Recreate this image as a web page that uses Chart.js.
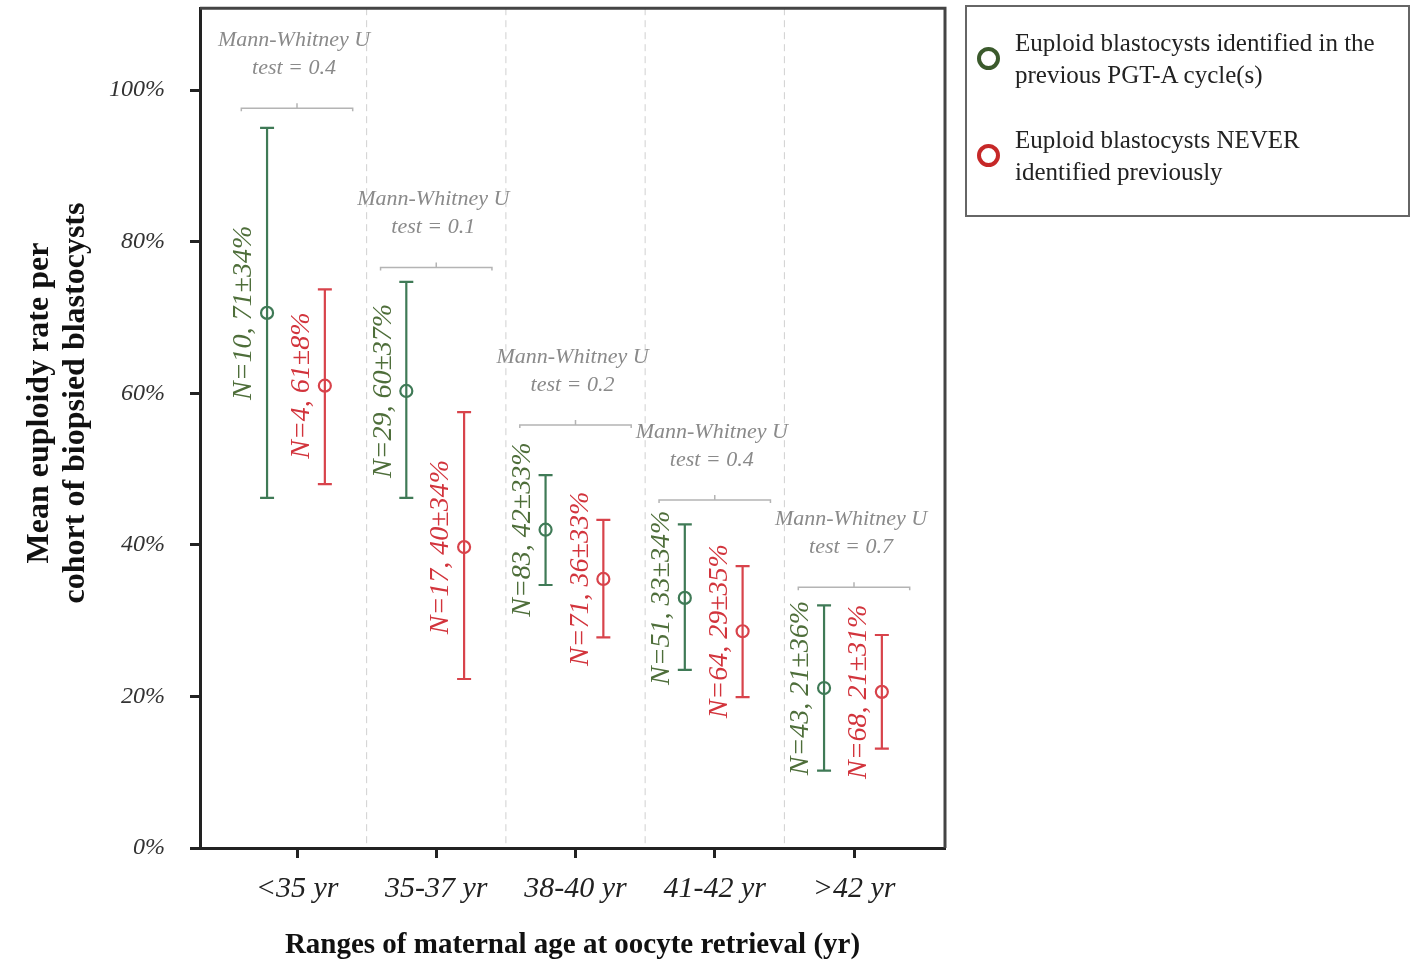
<!DOCTYPE html>
<html>
<head>
<meta charset="utf-8">
<script src="https://cdn.jsdelivr.net/npm/chart.js@4.4.1/dist/chart.umd.min.js"></script>
<style>
  body { margin: 0; background: #fff; }
  #wrap { position: relative; width: 1425px; height: 966px; }
  #legend {
    position: absolute; left: 965px; top: 5px; width: 441px; height: 208px;
    border: 2px solid #666; font-family: 'Liberation Serif', serif; font-size: 25px;
    color: #222; line-height: 32px;
  }
  .item { position: absolute; left: 48px; }
  .dot { position: absolute; left: -38px; width: 15px; height: 15px; border-radius: 50%; border: 4px solid; }
</style>
</head>
<body>
<div id="wrap">
  <canvas id="chart" width="1425" height="966"></canvas>
  <div id="legend">
    <div class="item" style="top:20px"><span class="dot" style="top:20px;border-color:#3b5a2c"></span>Euploid blastocysts identified in the<br>previous PGT-A cycle(s)</div>
    <div class="item" style="top:117px"><span class="dot" style="top:20px;border-color:#c62828"></span>Euploid blastocysts NEVER<br>identified previously</div>
  </div>
</div>
<script>
// data (percent)
const ageGroups = ['<35 yr', '35-37 yr', '38-40 yr', '41-42 yr', '>42 yr'];
const prevMean = [70.6, 60.3, 42.0, 33.0, 21.1];
const prevLow  = [46.2, 46.2, 34.7, 23.5, 10.2];
const prevHigh = [95.0, 74.7, 49.2, 42.7, 32.0];
const neverMean = [61.0, 39.7, 35.5, 28.6, 20.6];
const neverLow  = [48.0, 22.3, 27.8, 19.9, 13.1];
const neverHigh = [73.7, 57.5, 43.3, 37.2, 28.1];
const prevLabels  = ['N=10, 71±34%', 'N=29, 60±37%', 'N=83, 42±33%', 'N=51, 33±34%', 'N=43, 21±36%'];
const neverLabels = ['N=4, 61±8%', 'N=17, 40±34%', 'N=71, 36±33%', 'N=64, 29±35%', 'N=68, 21±31%'];
const mwTest = ['0.4', '0.1', '0.2', '0.4', '0.7'];
const bracketLevel = [97.6, 76.6, 55.8, 45.9, 34.4];
const yTicks = [0, 20, 40, 60, 80, 100];

const GREEN = '#3f7a56';
const RED = '#d8434b';
const GREEN_TXT = '#4e6e3a';
const RED_TXT = '#d2343c';
const OFF_PREV = -0.215, OFF_NEVER = 0.2;
const SERIF = "'Liberation Serif', 'Times New Roman', serif";

function errBars(ctx, x, y, means, lows, highs, off, color) {
    ctx.strokeStyle = color;
    ctx.lineWidth = 2.2;
    means.forEach((m, i) => {
        const px = x.getPixelForValue(i + 1 + off);
        const top = y.getPixelForValue(highs[i]);
        const bot = y.getPixelForValue(lows[i]);
        ctx.beginPath();
        ctx.moveTo(px, top); ctx.lineTo(px, bot);
        ctx.moveTo(px - 7, top); ctx.lineTo(px + 7, top);
        ctx.moveTo(px - 7, bot); ctx.lineTo(px + 7, bot);
        ctx.stroke();
    });
}

function sideLabels(ctx, x, y, means, labels, off, color) {
    ctx.fillStyle = color;
    ctx.font = 'italic 28px ' + SERIF;
    ctx.textAlign = 'center';
    ctx.textBaseline = 'middle';
    labels.forEach((t, i) => {
        const px = x.getPixelForValue(i + 1 + off) - 23;
        const py = y.getPixelForValue(means[i]);
        ctx.save();
        ctx.translate(px, py);
        ctx.rotate(-Math.PI / 2);
        ctx.fillText(t, 0, 0);
        ctx.restore();
    });
}

const decorations = {
    id: 'decorations',
    beforeDatasetsDraw(chart) {
        const { ctx, chartArea: a, scales: { x, y } } = chart;
        ctx.save();
        // dashed separators between age groups
        ctx.strokeStyle = '#d0d0d0';
        ctx.lineWidth = 1;
        ctx.setLineDash([7, 5]);
        for (let i = 1; i < ageGroups.length; i++) {
            const px = x.getPixelForValue(i + 0.5);
            ctx.beginPath(); ctx.moveTo(px, a.top); ctx.lineTo(px, a.bottom); ctx.stroke();
        }
        ctx.setLineDash([]);
        // significance brackets
        ctx.strokeStyle = '#b4b4b4';
        ctx.lineWidth = 1.5;
        bracketLevel.forEach((lv, i) => {
            const l = x.getPixelForValue(i + 1 - 0.4);
            const r = x.getPixelForValue(i + 1 + 0.4);
            const py = y.getPixelForValue(lv);
            const c = (l + r) / 2;
            ctx.beginPath();
            ctx.moveTo(l, py + 3); ctx.lineTo(l, py); ctx.lineTo(r, py); ctx.lineTo(r, py + 3);
            ctx.moveTo(c, py); ctx.lineTo(c, py - 5);
            ctx.stroke();
        });
        errBars(ctx, x, y, prevMean, prevLow, prevHigh, OFF_PREV, GREEN);
        errBars(ctx, x, y, neverMean, neverLow, neverHigh, OFF_NEVER, RED);
        ctx.restore();
    },
    afterDraw(chart) {
        const { ctx, chartArea: a, scales: { x, y } } = chart;
        ctx.save();
        // frame (top + right)
        ctx.strokeStyle = '#444';
        ctx.lineWidth = 3;
        ctx.beginPath();
        ctx.moveTo(a.left, a.top); ctx.lineTo(a.right, a.top); ctx.lineTo(a.right, a.bottom);
        ctx.stroke();
        // Mann-Whitney notes
        ctx.fillStyle = '#8a8a8a';
        ctx.font = 'italic 22px ' + SERIF;
        ctx.textAlign = 'center';
        ctx.textBaseline = 'middle';
        bracketLevel.forEach((lv, i) => {
            const c = x.getPixelForValue(i + 1);
            const py = y.getPixelForValue(lv);
            ctx.fillText('Mann-Whitney U', c - 3, py - 68);
            ctx.fillText('test = ' + mwTest[i], c - 3, py - 40);
        });
        sideLabels(ctx, x, y, prevMean, prevLabels, OFF_PREV, GREEN_TXT);
        sideLabels(ctx, x, y, neverMean, neverLabels, OFF_NEVER, RED_TXT);
        // y axis title
        ctx.fillStyle = '#111';
        ctx.font = 'bold 32px ' + SERIF;
        ctx.textAlign = 'center';
        ctx.textBaseline = 'middle';
        [['Mean euploidy rate per', 40], ['cohort of biopsied blastocysts', 76]].forEach(([t, px]) => {
            ctx.save();
            ctx.translate(px, 403);
            ctx.rotate(-Math.PI / 2);
            ctx.fillText(t, 0, 0);
            ctx.restore();
        });
        ctx.restore();
    }
};

const pointStyle = (color) => ({
    showLine: false,
    pointRadius: 6,
    pointHoverRadius: 6,
    pointBorderWidth: 2.2,
    pointBackgroundColor: 'rgba(0,0,0,0)',
    pointBorderColor: color,
    borderColor: color
});

const noPad = (s) => { s.paddingTop = 0; s.paddingBottom = 0; s.paddingLeft = 0; s.paddingRight = 0; };

new Chart(document.getElementById('chart').getContext('2d'), {
    type: 'scatter',
    data: {
        datasets: [
            Object.assign({
                label: 'Euploid blastocysts identified in the previous PGT-A cycle(s)',
                data: prevMean.map((m, i) => ({ x: i + 1 + OFF_PREV, y: m }))
            }, pointStyle(GREEN)),
            Object.assign({
                label: 'Euploid blastocysts NEVER identified previously',
                data: neverMean.map((m, i) => ({ x: i + 1 + OFF_NEVER, y: m }))
            }, pointStyle(RED))
        ]
    },
    options: {
        responsive: false,
        animation: false,
        layout: { padding: { top: 8, right: 480, left: 0, bottom: 0 } },
        plugins: { legend: { display: false }, tooltip: { enabled: false } },
        scales: {
            x: {
                type: 'linear',
                min: 0.3034,
                max: 5.6535,
                afterFit: (s) => { s.height = 118; noPad(s); },
                afterBuildTicks: (s) => { s.ticks = ageGroups.map((g, i) => ({ value: i + 1 })); },
                grid: { drawOnChartArea: false, drawTicks: true, tickLength: 10, tickWidth: 3, tickColor: '#222' },
                border: { display: true, color: '#222', width: 3 },
                ticks: {
                    padding: 13,
                    color: '#222',
                    font: { family: SERIF, size: 30, style: 'italic' },
                    callback: (v) => ageGroups[Math.round(v) - 1]
                },
                title: {
                    display: true,
                    text: 'Ranges of maternal age at oocyte retrieval (yr)',
                    color: '#111',
                    font: { family: SERIF, size: 29, weight: 'bold' },
                    padding: { top: 0, bottom: 3 }
                }
            },
            y: {
                min: 0,
                max: 110.8,
                afterFit: (s) => { s.width = 200; noPad(s); },
                afterBuildTicks: (s) => { s.ticks = yTicks.map(v => ({ value: v })); },
                grid: { drawOnChartArea: false, drawTicks: true, tickLength: 10, tickWidth: 3, tickColor: '#222' },
                border: { display: true, color: '#222', width: 3 },
                ticks: {
                    padding: 25,
                    color: '#333',
                    font: { family: SERIF, size: 24, style: 'italic' },
                    callback: (v) => v + '%'
                }
            }
        }
    },
    plugins: [decorations]
});
</script>
</body>
</html>
